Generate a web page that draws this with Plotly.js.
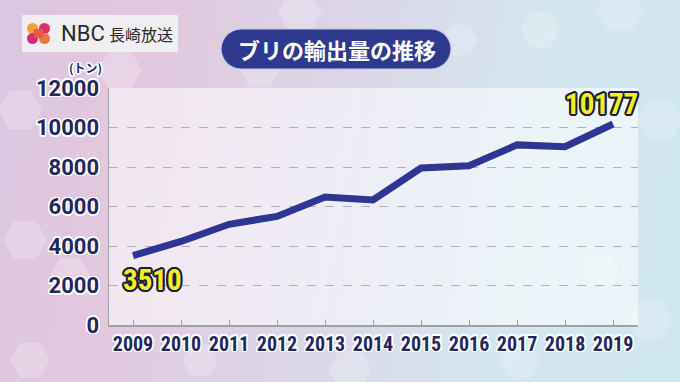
<!DOCTYPE html>
<html>
<head>
<meta charset="utf-8">
<script src="https://cdn.plot.ly/plotly-3.0.1.min.js"></script>
<style>
html,body{margin:0;padding:0;}
body{width:680px;height:382px;overflow:hidden;
background: linear-gradient(100deg, #dcc6e2 0%, #e2c8de 20%, #dcd4e8 45%, #d4e6f0 75%, #cfe6f0 100%);}
#chart{width:680px;height:382px;}
</style>
</head>
<body>
<div id="chart"></div>
<script>
const years = [2009, 2010, 2011, 2012, 2013, 2014, 2015, 2016, 2017, 2018, 2019];
const exportsTons = [3510, 4230, 5100, 5500, 6480, 6330, 7950, 8060, 9120, 9030, 10177];
const yTicks = [0, 2000, 4000, 6000, 8000, 10000, 12000];
const titleText = 'ブリの輸出量の推移';
const unitText = '(トン)';
const logoLatin = 'NBC';
const logoKanji = '長崎放送';

const W = 680, H = 382;
const M = {l: 109, r: 42, t: 88, b: 57};
const PW = W - M.l - M.r, PH = H - M.t - M.b;
const px = x => (x - M.l) / PW;
const py = y => (H - M.b - y) / PH;

function outline(color, r) {
  const s = [];
  for (let a = 0; a < 16; a++) {
    const t = a * Math.PI / 8;
    s.push((r * Math.cos(t)).toFixed(2) + 'px ' + (r * Math.sin(t)).toFixed(2) + 'px 0 ' + color);
  }
  return s.join(', ');
}

function roundRect(x0, y0, x1, y1, r) {
  const pts = [];
  const arc = (cx, cy, a0, a1) => {
    for (let i = 0; i <= 8; i++) {
      const a = a0 + (a1 - a0) * i / 8;
      pts.push([cx + r * Math.cos(a), cy + r * Math.sin(a)]);
    }
  };
  arc(x1 - r, y0 + r, -Math.PI / 2, 0);
  arc(x1 - r, y1 - r, 0, Math.PI / 2);
  arc(x0 + r, y1 - r, Math.PI / 2, Math.PI);
  arc(x0 + r, y0 + r, Math.PI, 1.5 * Math.PI);
  return 'M ' + pts.map(p => px(p[0]).toFixed(5) + ',' + py(p[1]).toFixed(5)).join(' L ') + ' Z';
}

function hexagon(cx, cy, r) {
  const pts = [];
  for (let i = 0; i < 6; i++) {
    const a = Math.PI / 3 * i;
    pts.push([cx + r * Math.cos(a), cy + r * Math.sin(a)]);
  }
  return 'M ' + pts.map(p => px(p[0]).toFixed(5) + ',' + py(p[1]).toFixed(5)).join(' L ') + ' Z';
}

const narrow = '"Liberation Sans Narrow", "Arial Narrow", "Roboto Condensed", "DejaVu Sans Condensed", sans-serif';
const navy = '#23275e';

const trace = {
  x: years, y: exportsTons, type: 'scatter', mode: 'lines',
  line: {color: '#2f3592', width: 7},
  hoverinfo: 'skip'
};

const hexes = [[300, 12, 22], [120, 70, 22], [20, 110, 22], [260, 70, 20], [620, 10, 24], [540, 30, 20],
  [660, 120, 22], [650, 320, 22], [25, 240, 22], [70, 275, 20], [30, 360, 20], [350, 370, 22],
  [520, 360, 20], [460, 40, 18], [600, 270, 18], [200, 360, 18]];

const shapes = hexes.map(h => ({type: 'path', xref: 'paper', yref: 'paper', path: hexagon(h[0], h[1], h[2]),
  fillcolor: 'rgba(255,255,255,0.22)', line: {width: 0}, layer: 'below'}));

shapes.push(
  {type: 'path', xref: 'paper', yref: 'paper', path: roundRect(221, 29, 451, 69, 20),
   fillcolor: '#2f3a8e', line: {color: '#bfc8e6', width: 1.2}, layer: 'above'},
  {type: 'rect', xref: 'paper', yref: 'paper', x0: px(22), x1: px(178), y0: py(15), y1: py(52),
   fillcolor: 'rgba(240,240,242,0.95)', line: {width: 0}},
  {type: 'circle', xref: 'paper', yref: 'paper', x0: px(27), x1: px(38), y0: py(23), y1: py(34), fillcolor: '#f0a030', line: {width: 0}},
  {type: 'circle', xref: 'paper', yref: 'paper', x0: px(39), x1: px(50), y0: py(23), y1: py(34), fillcolor: '#e0306a', line: {width: 0}},
  {type: 'circle', xref: 'paper', yref: 'paper', x0: px(27), x1: px(38), y0: py(33), y1: py(44), fillcolor: '#d8287a', line: {width: 0}},
  {type: 'circle', xref: 'paper', yref: 'paper', x0: px(39), x1: px(50), y0: py(33), y1: py(44), fillcolor: '#f07840', line: {width: 0}},
  {type: 'rect', xref: 'paper', yref: 'paper', x0: px(34), x1: px(43), y0: py(29), y1: py(38), fillcolor: '#e85a48', line: {width: 0}}
);

const annotations = [
  {xref: 'paper', yref: 'paper', x: px(337), y: py(49), xanchor: 'center', yanchor: 'middle',
   text: '<b>' + titleText + '</b>', showarrow: false,
   font: {family: '"Noto Sans CJK JP", sans-serif', size: 22, color: '#ffffff'}},
  {xref: 'paper', yref: 'paper', x: px(59), y: py(34), xanchor: 'left', yanchor: 'middle',
   text: logoLatin, showarrow: false,
   font: {family: 'Roboto, "Noto Sans", sans-serif', size: 22, color: '#2a2a2a'}},
  {xref: 'paper', yref: 'paper', x: px(107), y: py(34), xanchor: 'left', yanchor: 'middle',
   text: logoKanji, showarrow: false,
   font: {family: '"Noto Sans CJK JP", sans-serif', size: 16, color: '#2a2a2a'}},
  {xref: 'paper', yref: 'paper', x: px(104), y: py(67), xanchor: 'right', yanchor: 'middle',
   text: '<b>' + unitText + '</b>', showarrow: false,
   font: {family: '"Noto Sans CJK JP", sans-serif', size: 12, color: navy, shadow: outline('#ffffff', 1.5)}},
  {x: years[0], y: exportsTons[0], xref: 'x', yref: 'y', xanchor: 'center', yanchor: 'middle', yshift: -24, xshift: 19,
   text: '<b>' + exportsTons[0] + '</b>', showarrow: false,
   font: {family: narrow, size: 29, color: '#f2f022', shadow: outline('#1e1e3c', 2)}},
  {x: years[years.length - 1], y: exportsTons[exportsTons.length - 1], xref: 'x', yref: 'y', xanchor: 'center', yanchor: 'middle', yshift: 20, xshift: -12,
   text: '<b>' + exportsTons[exportsTons.length - 1] + '</b>', showarrow: false,
   font: {family: narrow, size: 29, color: '#f2f022', shadow: outline('#1e1e3c', 2)}}
];

const layout = {
  width: W, height: H,
  margin: M,
  paper_bgcolor: 'rgba(0,0,0,0)',
  plot_bgcolor: 'rgba(255,255,255,0.55)',
  showlegend: false,
  xaxis: {
    range: [2008.5, 2019.52], tickvals: years, ticktext: years.map(String),
    showgrid: false, zeroline: false,
    showline: true, linecolor: '#a0a0a8', linewidth: 1.5,
    ticks: 'inside', ticklen: 5, tickcolor: '#a0a0a8', tickwidth: 1,
    tickfont: {family: narrow, size: 20, weight: 'bold', color: navy, shadow: outline('#ffffff', 1.5)}
  },
  yaxis: {
    range: [0, 12000], tickvals: yTicks, ticktext: yTicks.map(String),
    showgrid: true, gridcolor: '#b0b0b8', griddash: 'dash', gridwidth: 1,
    zeroline: false, showline: true, linecolor: '#a0a0a8', linewidth: 1.5,
    ticks: '', ticklabelstandoff: 4,
    tickfont: {family: 'Roboto, "Liberation Sans", sans-serif', size: 22, weight: 'bold', color: navy, shadow: outline('#ffffff', 1.5)}
  },
  shapes: shapes,
  annotations: annotations
};

Plotly.newPlot('chart', [trace], layout, {staticPlot: true, displayModeBar: false});
</script>
</body>
</html>
